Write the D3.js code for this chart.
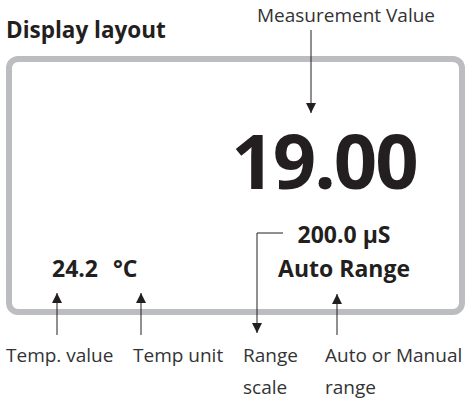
<!DOCTYPE html>
<html>
<head>
<meta charset="utf-8">
<script src="https://cdn.jsdelivr.net/npm/d3@7"></script>
<style>
  body { margin: 0; background: #fff; }
  svg { display: block; font-family: "Open Sans", sans-serif; }
</style>
</head>
<body>
<div id="chart"></div>
<script>
// display readings
const reading = ['19.00'];
const tempReading = ['24.2', '°C'];
const rangeReading = ['200.0 µS', 'Auto Range'];
// callout labels (lines of text)
const topLabel = ['Measurement Value'];
const bottomLabels = [['Temp. value'], ['Temp unit'], ['Range', 'scale'], ['Auto or Manual', 'range']];

const W = 470, H = 400;
const svg = d3.select('#chart').append('svg')
    .attr('width', W).attr('height', H);

// arrow marker
svg.append('defs').append('marker')
    .attr('id', 'arr')
    .attr('viewBox', '0 0 10 16')
    .attr('refX', 10).attr('refY', 8)
    .attr('markerWidth', 10).attr('markerHeight', 16)
    .attr('markerUnits', 'userSpaceOnUse')
    .attr('orient', 'auto')
  .append('path')
    .attr('d', 'M0,3 L10,8 L0,13 Z')
    .attr('fill', '#231f20');

svg.append('text')
    .attr('x', 6).attr('y', 38)
    .attr('font-size', 22.5).attr('font-weight', 700)
    .attr('fill', '#231f20')
    .text('Display layout');

// the LCD frame
svg.append('rect')
    .attr('x', 9).attr('y', 59)
    .attr('width', 453).attr('height', 253)
    .attr('rx', 9)
    .attr('fill', 'none')
    .attr('stroke', '#bcbdc0')
    .attr('stroke-width', 6);

svg.append('text')
    .attr('x', 324).attr('y', 189)
    .attr('text-anchor', 'middle')
    .attr('font-size', 76).attr('font-weight', 700)
    .attr('fill', '#231f20')
    .attr('letter-spacing', -2)
    .text(reading[0]);

const tx = [52, 113];
svg.selectAll('text.temp').data(tempReading).enter().append('text')
    .attr('class', 'temp')
    .attr('x', (d, i) => tx[i]).attr('y', 277)
    .attr('font-size', 23).attr('font-weight', 700)
    .attr('fill', '#231f20')
    .text(d => d);

const ry = [243, 277];
svg.selectAll('text.range').data(rangeReading).enter().append('text')
    .attr('class', 'range')
    .attr('x', 344).attr('y', (d, i) => ry[i])
    .attr('text-anchor', 'middle')
    .attr('font-size', 23).attr('font-weight', 700)
    .attr('fill', '#231f20')
    .text(d => d);

// callouts
svg.append('text')
    .attr('x', 346).attr('y', 22)
    .attr('text-anchor', 'middle')
    .attr('font-size', 19)
    .attr('fill', '#333')
    .text(topLabel[0]);

const lines = [
  'M311,30 L311,113',
  'M57,335 L57,293',
  'M141,335 L141,293',
  'M283,233 L257,233 L257,333',
  'M337,335 L337,294'
];
svg.selectAll('path.lead').data(lines).enter().append('path')
    .attr('class', 'lead')
    .attr('d', d => d)
    .attr('fill', 'none')
    .attr('stroke', '#231f20')
    .attr('stroke-width', 1)
    .attr('marker-end', 'url(#arr)');

const lx = [6, 133, 243, 325];
const g = svg.selectAll('text.lbl').data(bottomLabels).enter().append('text')
    .attr('class', 'lbl')
    .attr('font-size', 19)
    .attr('fill', '#333');
g.selectAll('tspan').data((d, i) => d.map(t => ({t: t, x: lx[i]}))).enter().append('tspan')
    .attr('x', d => d.x)
    .attr('y', (d, j) => 362 + j * 32)
    .text(d => d.t);
</script>
</body>
</html>
